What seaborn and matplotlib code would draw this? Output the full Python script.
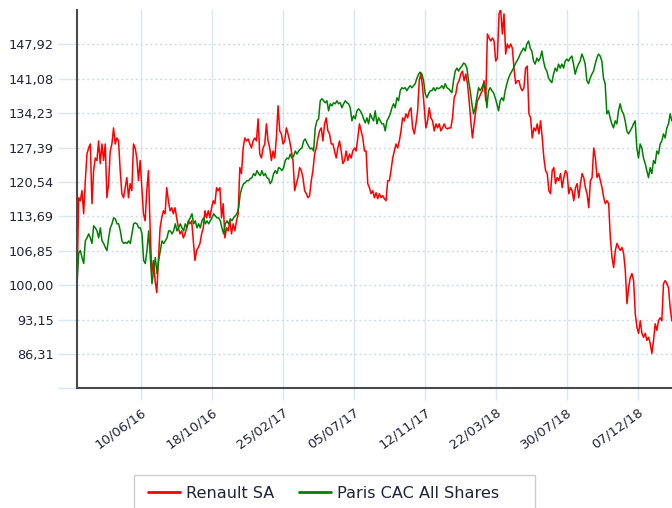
import numpy as np
import pandas as pd
import matplotlib
matplotlib.use("Agg")
import matplotlib.pyplot as plt
from matplotlib.patches import Rectangle
import seaborn as sns

# ---------------- data ----------------
renault = [
    100.0, 117.4, 116.8, 118.8, 114.2, 120.8, 126.1, 127.3, 128.1, 116.2,
    122.8, 125.3, 124.8, 128.7, 124.2, 128.1, 124.8, 128.1, 117.4, 120.2,
    126.7, 128.1, 131.3, 128.1, 129.3, 128.7, 122.8, 118.2, 117.4, 119.4,
    121.4, 117.4, 120.2, 118.8, 128.1, 127.3, 125.3, 120.8, 124.8, 119.4,
    114.2, 112.8, 118.8, 122.8, 111.4, 102.3, 104.9, 100.9, 98.5, 104.9,
    111.4, 113.4, 114.8, 114.2, 119.4, 116.8, 114.8, 115.4, 114.2, 115.4,
    113.4, 111.4, 110.2, 110.8, 109.4, 110.2, 111.4, 112.8, 112.2, 112.8,
    108.8, 104.9, 106.9, 107.5, 108.3, 110.2, 111.4, 114.8, 113.4, 114.8,
    113.4, 115.4, 116.8, 116.2, 119.4, 118.8,
    119.4, 113.4, 116.2, 109.4, 111.4, 110.8, 112.8, 110.2, 112.2, 110.8,
    112.8, 114.2, 123.4, 122.2, 127.3, 129.3, 128.7, 129.1, 128.1, 127.3,
    128.7, 129.3, 128.7, 133.1, 126.1, 125.3, 127.3, 128.1, 132.1, 128.7,
    127.3, 124.8, 126.7, 125.3, 129.3, 135.7, 130.7, 130.1, 128.1, 128.7,
    131.3, 130.1, 128.7, 126.7, 124.8, 118.8, 120.2, 121.4, 123.4, 122.8,
    121.4, 118.8, 118.2, 117.4, 117.8, 120.8, 122.8, 126.1, 127.3, 129.3,
    130.7, 131.3, 128.7, 132.1, 133.3, 130.7, 130.1, 128.1, 128.1, 126.7,
    125.3, 127.3, 128.7, 126.7, 124.2, 124.8, 126.7, 124.8, 126.1, 125.3,
    126.7, 127.3, 126.7, 129.3, 132.1, 130.7, 129.3, 126.7, 126.7, 120.2,
    119.4, 118.2, 118.8, 117.4, 118.4, 117.2, 118.2, 117.4, 117.8, 117.2,
    116.8, 120.8, 120.8, 122.8, 125.3, 126.7, 128.1, 127.3, 128.7, 130.7,
    133.3, 132.7, 134.1, 133.3, 134.7, 135.3, 131.3, 130.1, 132.1, 134.7,
    140.7, 142.2, 139.3, 135.3, 131.3, 132.7, 135.3, 133.3, 132.7, 130.7,
    132.1, 131.3, 132.1, 130.7, 131.3, 132.1, 131.3, 131.1, 131.3, 131.3,
    133.3, 137.3, 138.1, 140.1, 140.7, 142.0, 142.6, 140.7, 142.0, 140.1,
    136.7, 132.7, 129.3, 132.1, 134.7, 136.7, 137.3, 138.1, 138.7, 140.7,
    136.7, 150.0, 149.2, 148.6, 149.2, 148.6, 144.6, 145.2, 154.0, 154.9,
    150.0, 154.0, 146.0, 148.0, 147.2, 148.0, 147.2, 143.2, 140.1, 140.7,
    140.7, 139.3, 138.7, 139.3, 143.2, 143.6,
    134.1, 133.3, 129.3, 131.3, 130.7, 132.1, 130.1, 132.7, 129.3, 125.3,
    122.8, 122.2, 118.8, 118.2, 122.8, 123.4, 120.2, 121.4, 120.8, 122.2,
    119.4, 121.4, 122.8, 122.2, 118.2, 119.4, 118.8, 116.8, 119.4, 120.2,
    117.4, 120.2, 122.2, 121.4, 119.4, 118.2, 115.4, 120.8, 121.4, 127.3,
    125.3, 121.4, 122.2, 120.8, 119.4, 117.4, 116.2, 116.8, 116.2, 109.4,
    105.5, 103.5, 106.9, 108.3, 107.5, 106.9, 107.5, 106.3, 102.9, 96.3,
    99.5, 101.5, 102.3, 100.9, 94.3, 91.6, 90.4, 92.9, 90.4, 89.6,
    90.4, 89.0, 89.6, 88.4, 86.4, 89.0, 92.3, 91.0, 92.9, 93.5,
    92.9, 100.3, 100.9, 100.3, 99.5, 95.5, 92.9,
]

cac = [
    100.0, 106.3, 106.9, 105.5, 104.3, 108.8, 109.4, 110.2, 109.4, 108.3,
    111.8, 111.4, 110.8, 109.4, 111.4, 108.8, 108.3, 107.5, 106.9, 109.4,
    111.4, 112.2, 113.4, 113.2, 112.2, 112.2, 110.8, 108.8, 108.3, 108.5,
    108.3, 108.8, 108.3, 110.2, 112.2, 112.4, 112.2, 111.4, 111.4, 110.2,
    104.9, 104.3, 106.9, 110.8, 105.5, 100.3, 102.9, 105.5, 102.3, 104.9,
    106.9, 108.8, 108.3, 108.8, 109.4, 110.8, 110.8, 110.2, 110.8, 112.2,
    110.8, 111.4, 112.2, 111.4, 110.8, 112.2, 111.4, 112.8, 113.4, 114.2,
    112.2, 112.8, 111.4, 112.2, 111.4, 112.8, 113.4, 112.2, 112.8, 112.2,
    112.8, 113.4, 114.2, 113.8, 113.4, 113.4,
    112.8, 111.4, 110.2, 112.2, 112.8, 112.2, 113.2, 112.8, 113.4, 113.8,
    114.2, 115.4, 118.2, 119.4, 120.2, 120.4, 120.8, 120.8, 121.2, 121.4,
    122.2, 121.8, 122.8, 122.2, 121.8, 122.8, 121.8, 122.2, 121.4, 121.2,
    120.2, 120.8, 122.2, 122.8, 122.2, 123.4, 123.2, 122.8, 123.4, 124.8,
    125.3, 125.1, 126.1, 125.3, 125.7, 126.7, 126.1, 126.7, 127.1, 127.3,
    128.7, 129.1, 128.3, 127.7, 127.1, 127.3, 126.7, 131.3, 132.7, 133.1,
    136.7, 137.1, 136.7, 136.3, 136.7, 134.7, 136.1, 135.7, 136.3, 136.1,
    136.7, 136.1, 136.3, 135.3, 136.1, 136.7, 136.3, 136.1, 135.3, 132.7,
    133.7, 133.1, 134.7, 135.1, 134.7, 134.1, 133.1, 132.3, 133.3, 132.1,
    134.1, 133.3, 132.7, 134.7, 132.1, 133.3, 132.7, 132.1, 132.1, 130.7,
    132.7, 133.3, 134.1, 135.3, 136.1, 135.3, 137.3, 136.7, 138.7, 139.3,
    139.1, 139.3, 138.7, 139.3, 139.7, 139.3, 139.7, 140.1, 141.2, 142.0,
    142.4, 142.0, 140.7, 138.1, 137.3, 138.1, 138.7, 138.7, 139.3, 138.7,
    139.3, 139.1, 139.3, 139.7, 139.1, 140.1, 139.3, 139.1, 138.7, 138.3,
    140.7, 142.6, 143.2, 142.6, 143.2, 143.6, 144.2, 144.0, 143.2, 140.7,
    138.7, 136.1, 134.1, 135.3, 137.3, 139.3, 138.7, 139.3, 140.1, 139.3,
    135.3, 138.7, 139.3, 138.7, 138.3, 137.3, 136.1, 134.7, 136.7, 137.3,
    136.7, 138.7, 140.1, 141.2, 142.0, 142.6, 143.2, 144.0, 144.6, 145.2,
    146.0, 146.6, 147.2, 146.6, 148.0, 148.6,
    147.2, 146.6, 144.6, 144.0, 145.2, 144.6, 145.2, 146.6, 144.6, 143.2,
    142.6, 141.2, 140.7, 140.3, 142.0, 143.2, 142.6, 144.0, 143.2, 144.0,
    143.2, 144.6, 145.0, 144.6, 145.2, 145.6, 144.0, 142.0, 143.2, 144.0,
    144.6, 146.0, 145.2, 144.0, 140.7, 140.1, 141.2, 142.0, 142.6, 144.0,
    145.2, 146.0, 145.6, 144.6, 141.2, 140.1, 134.1, 134.7, 133.3, 132.1,
    131.3, 132.7, 132.1, 134.7, 136.1, 134.7, 134.1, 132.7, 130.7, 130.1,
    130.7, 131.3, 132.1, 132.7, 127.3, 125.3, 128.1, 127.3, 125.3, 124.2,
    122.8, 121.4, 123.4, 122.2, 124.8, 124.2, 126.7, 126.1, 128.1, 128.7,
    130.1, 129.3, 131.3, 132.1, 134.1, 132.7,
]

series_names = ["Renault SA", "Paris CAC All Shares"]
series_colors = ["#ff0000", "#008000"]
start_date = "2016-02-14"
end_date = "2019-02-07"
axis_start = "2016-02-14"
axis_end = "2019-02-07 08:00"

tick_dates = ["2016-06-10", "2016-10-18", "2017-02-25", "2017-07-05",
              "2017-11-12", "2018-03-22", "2018-07-30", "2018-12-07"]
tick_labels = ["10/06/16", "18/10/16", "25/02/17", "05/07/17",
               "12/11/17", "22/03/18", "30/07/18", "07/12/18"]
y_ticks = [79.46, 86.31, 93.15, 100.00, 106.85, 113.69, 120.54,
           127.39, 134.23, 141.08, 147.92]
y_labels = ["", "86,31", "93,15", "100,00", "106,85", "113,69", "120,54",
            "127,39", "134,23", "141,08", "147,92"]
y_range = (79.46, 154.77)

# ---------------- build table ----------------
frames = []
for name, vals in zip(series_names, [renault, cac]):
    frames.append(pd.DataFrame({
        "date": pd.date_range(start_date, end_date, periods=len(vals)),
        "value": vals,
        "series": name,
    }))
df = pd.concat(frames, ignore_index=True)

# ---------------- plot ----------------
sns.set_style("white")
plt.rcParams["font.family"] = ["DejaVu Sans"]

W, H = 672, 508
fig = plt.figure(figsize=(W / 100, H / 100), dpi=100)
ax_left, ax_top, ax_bottom = 77, 10, 388.3
ax = fig.add_axes([ax_left / W, 1 - ax_bottom / H, 1 - ax_left / W, (ax_bottom - ax_top) / H])

sns.lineplot(data=df, x="date", y="value", hue="series",
             palette=dict(zip(series_names, series_colors)),
             linewidth=1.1, ax=ax, legend=True)

handles, labels = ax.get_legend_handles_labels()
ax.get_legend().remove()

grid_c = "#d9e6f6"
text_c = "#22223a"
ax.set_xlim(pd.Timestamp(axis_start), pd.Timestamp(axis_end))
ax.set_ylim(*y_range)
ax.set_xticks(pd.to_datetime(tick_dates))
ax.set_xticklabels(tick_labels)
ax.set_yticks(y_ticks)
ax.set_yticklabels(y_labels)
ax.set_xlabel("")
ax.set_ylabel("")

ax.xaxis.grid(True, color=grid_c, linestyle="-", linewidth=1.0)
ax.yaxis.grid(True, color="#c9dbf1", linestyle=(0, (1.5, 2)), linewidth=1.0)
ax.set_axisbelow(True)

ax.tick_params(axis="y", length=13.7, width=1.0, color=grid_c, pad=3.2,
               labelsize=9.3, labelcolor=text_c, left=True)
ax.tick_params(axis="x", length=8.6, width=1.0, color=grid_c, pad=4,
               labelsize=9.5, labelcolor=text_c, bottom=True)
for lbl in ax.get_xticklabels():
    lbl.set_rotation(36)
    lbl.set_ha("right")
    lbl.set_va("top")
    lbl.set_rotation_mode("anchor")

for side in ["top", "right"]:
    ax.spines[side].set_visible(False)
for side in ["left", "bottom"]:
    ax.spines[side].set_color("#4a4a4a")
    ax.spines[side].set_linewidth(1.5)

# legend: frameless entries plus a light box like the reference
for h in handles:
    h.set_linewidth(2.0)
leg = fig.legend(handles, labels, loc="center left",
                 bbox_to_anchor=(148 / W, 1 - 493 / H), ncol=2,
                 frameon=False, fontsize=11.6, handlelength=2.0,
                 handletextpad=0.37, columnspacing=1.5, borderpad=0,
                 borderaxespad=0, labelcolor=text_c)
box = Rectangle((134 / W, -0.05), (535 - 134) / W, 0.05 + (1 - 475 / H),
                transform=fig.transFigure, fill=False, edgecolor="#cccccc",
                linewidth=1.0, clip_on=False)
fig.patches.append(box)

fig.savefig("out.png", dpi=100)
